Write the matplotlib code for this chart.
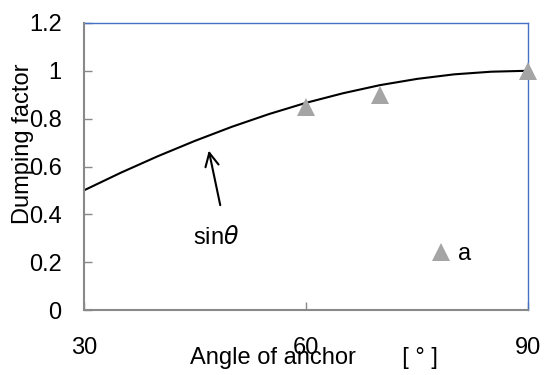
import matplotlib
matplotlib.use('Agg')
import matplotlib.pyplot as plt

plt.rcParams['font.family'] = ['Liberation Sans', 'DejaVu Sans']
plt.rcParams['mathtext.fontset'] = 'dejavusans'

# sin(theta) curve
curve_angle = [30, 35, 40, 45, 50, 55, 60, 65, 70, 75, 80, 85, 90]
curve_value = [0.50, 0.574, 0.643, 0.707, 0.766, 0.819, 0.866, 0.906, 0.940, 0.966, 0.985, 0.996, 1.00]

# measured points "a"
meas_angle = [60, 70, 90]
meas_value = [0.85, 0.90, 1.00]

x_ticks = [30, 60, 90]
y_ticks = [0, 0.2, 0.4, 0.6, 0.8, 1, 1.2]
y_ticklabels = ['0', '0.2', '0.4', '0.6', '0.8', '1', '1.2']

FS = 17

fig = plt.figure(figsize=(5.44, 3.75), dpi=100)
ax = fig.add_axes([0.154, 0.173, 0.817, 0.766])

ax.plot(curve_angle, curve_value, color='black', lw=1.5, zorder=2)
ax.plot(meas_angle, meas_value, ls='none', marker='^', ms=13, color='#A5A5A5',
        markeredgewidth=0, label='a', zorder=3, clip_on=False)

ax.set_xlim(30, 90)
ax.set_ylim(0, 1.2)
ax.set_xticks(x_ticks)
ax.set_yticks(y_ticks)
ax.set_yticklabels(y_ticklabels)

for side in ['left', 'bottom']:
    ax.spines[side].set_color('#898989')
    ax.spines[side].set_linewidth(1.5)
for side in ['top', 'right']:
    ax.spines[side].set_color('#4472C4')
    ax.spines[side].set_linewidth(1.0)
ax.spines['left'].set_zorder(4)
ax.spines['bottom'].set_zorder(4)

ax.tick_params(axis='y', direction='in', length=6, width=1, color='#898989',
               labelsize=FS, pad=16)
ax.tick_params(axis='x', direction='in', length=6, width=1, color='#898989',
               labelsize=FS, pad=19)

ax.set_xlabel('Angle of anchor       [ ° ]', fontsize=FS)
ax.xaxis.set_label_coords(0.518, -0.13)
ax.set_ylabel('Dumping factor', fontsize=FS)
ax.yaxis.set_label_coords(-0.112, 0.578)

ax.annotate('', xy=(46.8, 0.678), xytext=(48.5, 0.427),
            arrowprops=dict(arrowstyle='->', color='black', lw=1.5,
                            mutation_scale=24))
ax.text(47.8, 0.305, r'sin$\theta$', fontsize=FS, ha='center', va='center')

ax.legend(loc='center left', bbox_to_anchor=(0.757, 0.195), frameon=False,
          fontsize=FS, handlelength=0.8, handletextpad=0.3, borderpad=0)

fig.savefig('out.png', dpi=100)
